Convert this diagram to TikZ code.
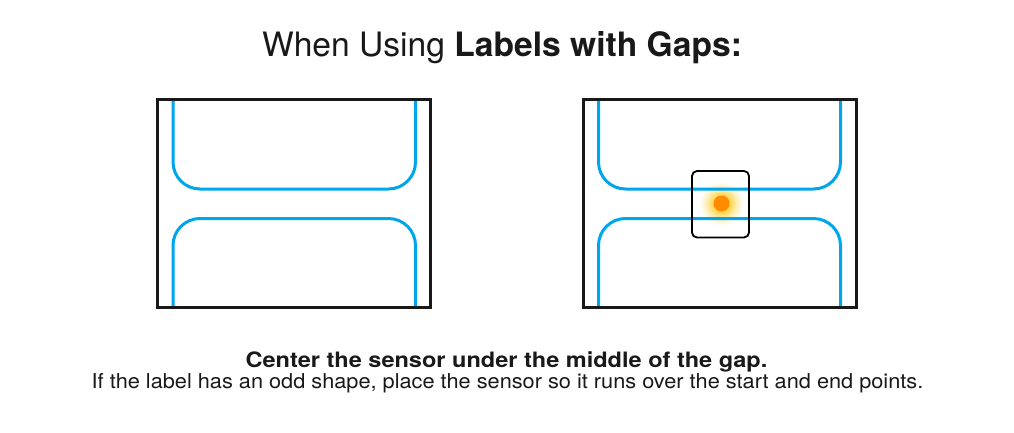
\documentclass[tikz,border=0pt]{standalone}
\usepackage{fontspec}
\setmainfont{TeX Gyre Heros}
\newfontfamily\capboldfont[FakeStretch=1.11]{TeX Gyre Heros}
\newfontfamily\capfont[FakeStretch=1.06]{TeX Gyre Heros}
\definecolor{labelblue}{RGB}{0,166,235}
\definecolor{dotorange}{RGB}{255,140,0}
\definecolor{glowyellow}{RGB}{255,205,40}
\pgfdeclareradialshading{glowshade}{\pgfpoint{0bp}{0bp}}{color(0bp)=(glowyellow); color(9bp)=(glowyellow!85!white); color(18bp)=(glowyellow!30!white); color(25bp)=(white); color(50bp)=(white)}
\tikzset{
  frame/.style={draw=black!90, line width=3pt},
  gapline/.style={draw=labelblue, line width=3pt, rounded corners=27pt},
  sensorbox/.style={draw=black, line width=1.8pt, rounded corners=5pt},
  txt/.style={anchor=base, inner sep=0pt, text=black!90}
}
\begin{document}
\begin{tikzpicture}[x=1pt,y=-1pt]
\useasboundingbox[fill=white] (0,0) rectangle (1014,432);
% title
\node[txt, font=\fontsize{33.6}{40}\selectfont] (title) at (502,56.7) {When Using \textbf{Labels with Gaps:}};
% left panel
\draw[gapline] (173,101) |- (415.5,189) -- (415.5,101);
\draw[gapline] (173,306) |- (415.5,218.5) -- (415.5,306);
\draw[frame] (157.5,99.5) rectangle (430.5,307.5);
% right panel
\shade[shading=glowshade] (721.5,203.5) circle (22);
\draw[gapline] (598.5,101) |- (840.5,189) -- (840.5,101);
\draw[gapline] (598.5,306) |- (840.5,218.5) -- (840.5,306);
\draw[frame] (583.5,99.5) rectangle (856,307.5);
\draw[sensorbox] (692,171) rectangle (749,237.5);
\fill[dotorange] (721.5,203.5) circle (8);
% captions
\node[txt, font=\capboldfont\fontsize{21.2}{24}\selectfont\bfseries] (sub1) at (506.5,367) {Center the sensor under the middle of the gap.};
\node[txt, font=\capfont\fontsize{20.5}{24}\selectfont] (sub2) at (507.5,388) {If the label has an odd shape, place the sensor so it runs over the start and end points.};
\end{tikzpicture}
\end{document}
